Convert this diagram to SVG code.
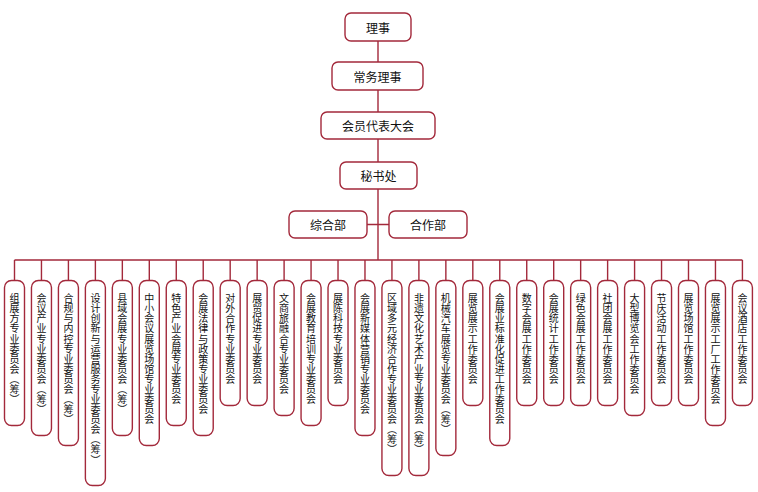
<svg xmlns="http://www.w3.org/2000/svg" width="758" height="492" viewBox="0 0 758 492">
<style>
.b{fill:#fff;stroke:#a3293b;stroke-width:1.4}
.c{fill:none;stroke:#a3293b;stroke-width:1.4}
.t{font-family:"Noto Sans CJK SC","Noto Sans",sans-serif;font-size:12px;fill:#111;text-anchor:middle;dominant-baseline:central}
.v{font-family:"Noto Sans CJK SC","Noto Sans",sans-serif;font-size:10px;fill:#111;text-anchor:start;writing-mode:vertical-rl}
</style>
<rect width="758" height="492" fill="#fff"/>
<g id="connectors">
<path class="c" d="M378 41V260M367 224.5H389M14.5 260H742.4"/>
<path class="c" d="M14.5 260V280.5M41.46 260V280.5M68.42 260V280.5M95.38 260V280.5M122.34 260V280.5M149.3 260V280.5M176.26 260V280.5M203.22 260V280.5M230.18 260V280.5M257.14 260V280.5M284.1 260V280.5M311.06 260V280.5M338.02 260V280.5M364.98 260V280.5M391.94 260V280.5M418.9 260V280.5M445.86 260V280.5M472.82 260V280.5M499.78 260V280.5M526.74 260V280.5M553.7 260V280.5M580.66 260V280.5M607.62 260V280.5M634.58 260V280.5M661.54 260V280.5M688.5 260V280.5M715.46 260V280.5M742.42 260V280.5"/>
</g>
<g id="lishi"><rect class="b" x="345" y="13" width="66" height="28" rx="6"/><text class="t" x="378" y="27">理事</text></g>
<g id="changwu"><rect class="b" x="332" y="62" width="91" height="28" rx="6"/><text class="t" x="377.5" y="76">常务理事</text></g>
<g id="huiyuan"><rect class="b" x="321" y="112" width="114" height="27" rx="6"/><text class="t" x="378" y="125.5">会员代表大会</text></g>
<g id="mishu"><rect class="b" x="340" y="162" width="77" height="27" rx="6"/><text class="t" x="378.5" y="175.5">秘书处</text></g>
<g id="zonghe"><rect class="b" x="289" y="211" width="78" height="27" rx="6"/><text class="t" x="328" y="224.5">综合部</text></g>
<g id="hezuo"><rect class="b" x="389" y="211" width="78" height="27" rx="6"/><text class="t" x="428" y="224.5">合作部</text></g>
<g id="n1"><rect class="b" x="4.5" y="280.5" width="20" height="145" rx="7"/><text class="v" x="14.5" y="293.5 303.6 313.7 323.7 333.8 343.9 354 364.1 374.1 384.2 394.3">组展方专业委员会（筹）</text></g>
<g id="n2"><rect class="b" x="31.46" y="280.5" width="20" height="155" rx="7"/><text class="v" x="41.46" y="293.5 303.6 313.7 323.7 333.8 343.9 354 364.1 374.1 384.2 394.3 404.4">会议产业专业委员会（筹）</text></g>
<g id="n3"><rect class="b" x="58.42" y="280.5" width="20" height="165" rx="7"/><text class="v" x="68.42" y="293.5 303.6 313.7 323.7 333.8 343.9 354 364.1 374.1 384.2 394.3 404.4 414.5">合规与内控专业委员会（筹）</text></g>
<g id="n4"><rect class="b" x="85.38" y="280.5" width="20" height="205" rx="7"/><text class="v" x="95.38" y="293.5 303.6 313.7 323.7 333.8 343.9 354 364.1 374.1 384.2 394.3 404.4 414.5 424.5 434.6 444.7 454.8">设计创新与运营服务专业委员会（筹）</text></g>
<g id="n5"><rect class="b" x="112.34" y="280.5" width="20" height="155" rx="7"/><text class="v" x="122.34" y="293.5 303.6 313.7 323.7 333.8 343.9 354 364.1 374.1 384.2 394.3 404.4">县域会展专业委员会（筹）</text></g>
<g id="n6"><rect class="b" x="139.3" y="280.5" width="20" height="165" rx="7"/><text class="v" x="149.3" y="293.5 303.6 313.7 323.7 333.8 343.9 354 364.1 374.1 384.2 394.3 404.4 414.5">中小会议展览场馆专业委员会</text></g>
<g id="n7"><rect class="b" x="166.26" y="280.5" width="20" height="145" rx="7"/><text class="v" x="176.26" y="293.5 303.6 313.7 323.7 333.8 343.9 354 364.1 374.1 384.2 394.3">特色产业会展专业委员会</text></g>
<g id="n8"><rect class="b" x="193.22" y="280.5" width="20" height="155" rx="7"/><text class="v" x="203.22" y="293.5 303.6 313.7 323.7 333.8 343.9 354 364.1 374.1 384.2 394.3 404.4">会展法律与政策专业委员会</text></g>
<g id="n9"><rect class="b" x="220.18" y="280.5" width="20" height="125" rx="7"/><text class="v" x="230.18" y="293.5 303.6 313.7 323.7 333.8 343.9 354 364.1 374.1">对外合作专业委员会</text></g>
<g id="n10"><rect class="b" x="247.14" y="280.5" width="20" height="125" rx="7"/><text class="v" x="257.14" y="293.5 303.6 313.7 323.7 333.8 343.9 354 364.1 374.1">展贸促进专业委员会</text></g>
<g id="n11"><rect class="b" x="274.1" y="280.5" width="20" height="135" rx="7"/><text class="v" x="284.1" y="293.5 303.6 313.7 323.7 333.8 343.9 354 364.1 374.1 384.2">文商旅融合专业委员会</text></g>
<g id="n12"><rect class="b" x="301.06" y="280.5" width="20" height="145" rx="7"/><text class="v" x="311.06" y="293.5 303.6 313.7 323.7 333.8 343.9 354 364.1 374.1 384.2 394.3">会展教育培训专业委员会</text></g>
<g id="n13"><rect class="b" x="328.02" y="280.5" width="20" height="125" rx="7"/><text class="v" x="338.02" y="293.5 303.6 313.7 323.7 333.8 343.9 354 364.1 374.1">展陈科技专业委员会</text></g>
<g id="n14"><rect class="b" x="354.98" y="280.5" width="20" height="155" rx="7"/><text class="v" x="364.98" y="293.5 303.6 313.7 323.7 333.8 343.9 354 364.1 374.1 384.2 394.3 404.4">会展新媒体营销专业委员会</text></g>
<g id="n15"><rect class="b" x="381.94" y="280.5" width="20" height="195" rx="7"/><text class="v" x="391.94" y="293.5 303.6 313.7 323.7 333.8 343.9 354 364.1 374.1 384.2 394.3 404.4 414.5 424.5 434.6 444.7">区域多元经济合作专业委员会（筹）</text></g>
<g id="n16"><rect class="b" x="408.9" y="280.5" width="20" height="195" rx="7"/><text class="v" x="418.9" y="293.5 303.6 313.7 323.7 333.8 343.9 354 364.1 374.1 384.2 394.3 404.4 414.5 424.5 434.6 444.7">非遗文化艺术产业专业委员会（筹）</text></g>
<g id="n17"><rect class="b" x="435.86" y="280.5" width="20" height="175" rx="7"/><text class="v" x="445.86" y="293.5 303.6 313.7 323.7 333.8 343.9 354 364.1 374.1 384.2 394.3 404.4 414.5 424.5">机械汽车展览专业委员会（筹）</text></g>
<g id="n18"><rect class="b" x="462.82" y="280.5" width="20" height="125" rx="7"/><text class="v" x="472.82" y="293.5 303.6 313.7 323.7 333.8 343.9 354 364.1 374.1">展览展示工作委员会</text></g>
<g id="n19"><rect class="b" x="489.78" y="280.5" width="20" height="165" rx="7"/><text class="v" x="499.78" y="293.5 303.6 313.7 323.7 333.8 343.9 354 364.1 374.1 384.2 394.3 404.4 414.5">会展业标准化促进工作委员会</text></g>
<g id="n20"><rect class="b" x="516.74" y="280.5" width="20" height="125" rx="7"/><text class="v" x="526.74" y="293.5 303.6 313.7 323.7 333.8 343.9 354 364.1 374.1">数字会展工作委员会</text></g>
<g id="n21"><rect class="b" x="543.7" y="280.5" width="20" height="125" rx="7"/><text class="v" x="553.7" y="293.5 303.6 313.7 323.7 333.8 343.9 354 364.1 374.1">会展统计工作委员会</text></g>
<g id="n22"><rect class="b" x="570.66" y="280.5" width="20" height="125" rx="7"/><text class="v" x="580.66" y="293.5 303.6 313.7 323.7 333.8 343.9 354 364.1 374.1">绿色会展工作委员会</text></g>
<g id="n23"><rect class="b" x="597.62" y="280.5" width="20" height="125" rx="7"/><text class="v" x="607.62" y="293.5 303.6 313.7 323.7 333.8 343.9 354 364.1 374.1">社团会展工作委员会</text></g>
<g id="n24"><rect class="b" x="624.58" y="280.5" width="20" height="135" rx="7"/><text class="v" x="634.58" y="293.5 303.6 313.7 323.7 333.8 343.9 354 364.1 374.1 384.2">大型博览会工作委员会</text></g>
<g id="n25"><rect class="b" x="651.54" y="280.5" width="20" height="125" rx="7"/><text class="v" x="661.54" y="293.5 303.6 313.7 323.7 333.8 343.9 354 364.1 374.1">节庆活动工作委员会</text></g>
<g id="n26"><rect class="b" x="678.5" y="280.5" width="20" height="125" rx="7"/><text class="v" x="688.5" y="293.5 303.6 313.7 323.7 333.8 343.9 354 364.1 374.1">展览场馆工作委员会</text></g>
<g id="n27"><rect class="b" x="705.46" y="280.5" width="20" height="145" rx="7"/><text class="v" x="715.46" y="293.5 303.6 313.7 323.7 333.8 343.9 354 364.1 374.1 384.2 394.3">展览展示工厂工作委员会</text></g>
<g id="n28"><rect class="b" x="732.42" y="280.5" width="20" height="125" rx="7"/><text class="v" x="742.42" y="293.5 303.6 313.7 323.7 333.8 343.9 354 364.1 374.1">会议酒店工作委员会</text></g>
</svg>
